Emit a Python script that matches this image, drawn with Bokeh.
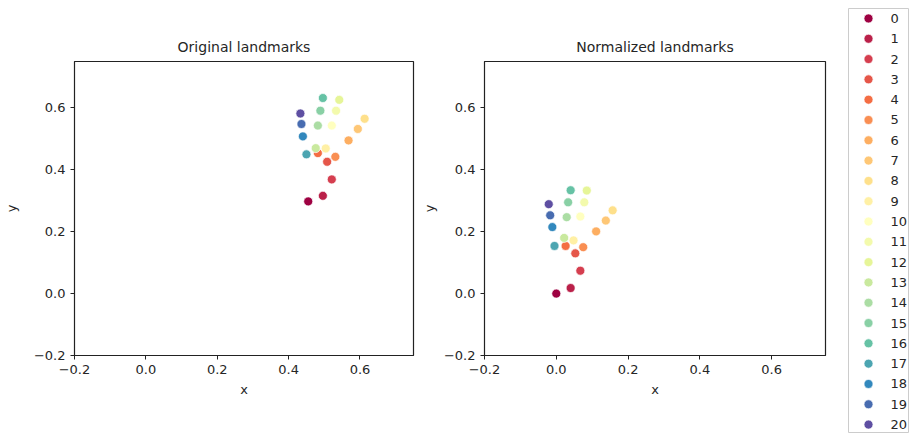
from bokeh.plotting import figure
from bokeh.layouts import row
from bokeh.models import Range1d, FixedTicker, ColumnDataSource
from bokeh.core.properties import value
from bokeh.embed import file_html
from bokeh.resources import INLINE

# ---- data ----
landmark_ids = list(range(21))
orig_x = [0.455, 0.496, 0.521, 0.508, 0.482, 0.531, 0.568, 0.594, 0.613, 0.504, 0.521,
          0.533, 0.542, 0.476, 0.482, 0.489, 0.496, 0.450, 0.440, 0.436, 0.433]
orig_y = [0.298, 0.316, 0.369, 0.426, 0.454, 0.442, 0.495, 0.532, 0.565, 0.469, 0.543,
          0.591, 0.626, 0.470, 0.543, 0.591, 0.632, 0.450, 0.508, 0.548, 0.582]
norm_x = [0.000, 0.040, 0.067, 0.053, 0.026, 0.075, 0.111, 0.138, 0.157, 0.048, 0.067,
          0.078, 0.085, 0.022, 0.029, 0.033, 0.040, -0.005, -0.011, -0.017, -0.021]
norm_y = [0.000, 0.018, 0.074, 0.130, 0.154, 0.150, 0.201, 0.236, 0.269, 0.172, 0.249,
          0.295, 0.333, 0.180, 0.247, 0.295, 0.334, 0.154, 0.215, 0.253, 0.289]
axis_ticks = [-0.2, 0.0, 0.2, 0.4, 0.6]

# Spectral colormap sampled at 21 levels
colors = ["#9e0142", "#ba2049", "#d53e4f", "#e55649", "#f46d43", "#f98e52", "#fdae61",
          "#fec776", "#fee08b", "#fff0a5", "#ffffbf", "#f3faac", "#e6f598", "#c9e99e",
          "#abdda4", "#89d0a5", "#66c2a5", "#4ca5b1", "#3288bd", "#486cb0", "#5e4fa2"]

FONT = "DejaVu Sans"
TXT = "#262626"
H = 434


def make_panel(title, xs, ys, width, left, right, ylabel_standoff):
    p = figure(width=width, height=H, title=title,
               x_range=Range1d(-0.2, 0.75), y_range=Range1d(-0.2, 0.75),
               output_backend="svg", toolbar_location=None,
               min_border_left=left, min_border_right=right,
               min_border_top=61, min_border_bottom=H - 61 - 294)
    p.title.align = "center"
    p.title.text_font = FONT
    p.title.text_font_size = "14px"
    p.title.text_font_style = "normal"
    p.title.text_color = TXT
    p.title.standoff = 14
    p.grid.visible = False
    p.outline_line_color = "#222222"
    p.outline_line_width = 1.2
    p.xaxis.axis_label = "x"
    p.yaxis.axis_label = "y"
    for ax in (p.xaxis[0], p.yaxis[0]):
        ax.ticker = FixedTicker(ticks=axis_ticks)
        ax.major_label_overrides = {-0.2: "\u22120.2", 0.0: "0.0", 0.2: "0.2", 0.4: "0.4", 0.6: "0.6"}
        ax.major_label_text_font = FONT
        ax.major_label_text_font_size = "13px"
        ax.major_label_text_color = TXT
        ax.axis_label_text_font = FONT
        ax.axis_label_text_font_size = "13px"
        ax.axis_label_text_font_style = "normal"
        ax.axis_label_text_color = TXT
        ax.minor_tick_line_color = None
        ax.major_tick_in = 0
        ax.major_tick_out = 4
        ax.axis_line_color = "#222222"
        ax.major_tick_line_color = "#222222"
    p.yaxis[0].axis_label_standoff = ylabel_standoff
    src = ColumnDataSource(dict(x=xs, y=ys, c=colors, id=landmark_ids))
    p.scatter("x", "y", source=src, size=9, fill_color="c", line_color="white",
              line_width=0.7)
    return p


p1 = make_panel("Original landmarks", orig_x, orig_y, 418, 71, 5, 12)
p2 = make_panel("Normalized landmarks", norm_x, norm_y, 425, 64, 18, 4)

# legend panel
p3 = figure(width=66, height=H, x_range=Range1d(0, 60), y_range=Range1d(20.39, -0.49),
            x_axis_type=None, y_axis_type=None, output_backend="svg",
            toolbar_location=None, min_border_left=5, min_border_right=1,
            min_border_top=8, min_border_bottom=2)
p3.frame_align = False
p3.grid.visible = False
p3.outline_line_color = "#cccccc"
lsrc = ColumnDataSource(dict(y=landmark_ids, c=colors, t=[str(i) for i in landmark_ids],
                             mx=[20] * len(landmark_ids), tx=[42] * len(landmark_ids)))
p3.scatter("mx", "y", source=lsrc, size=9, fill_color="c", line_color="white", line_width=0.7)
p3.text("tx", "y", text="t", source=lsrc, text_font=value(FONT),
        text_font_size=value("13px"), text_baseline="middle", text_align="left",
        text_color=TXT)

layout = row(p1, p2, p3)
open("out.html", "w").write(file_html(layout, INLINE))
